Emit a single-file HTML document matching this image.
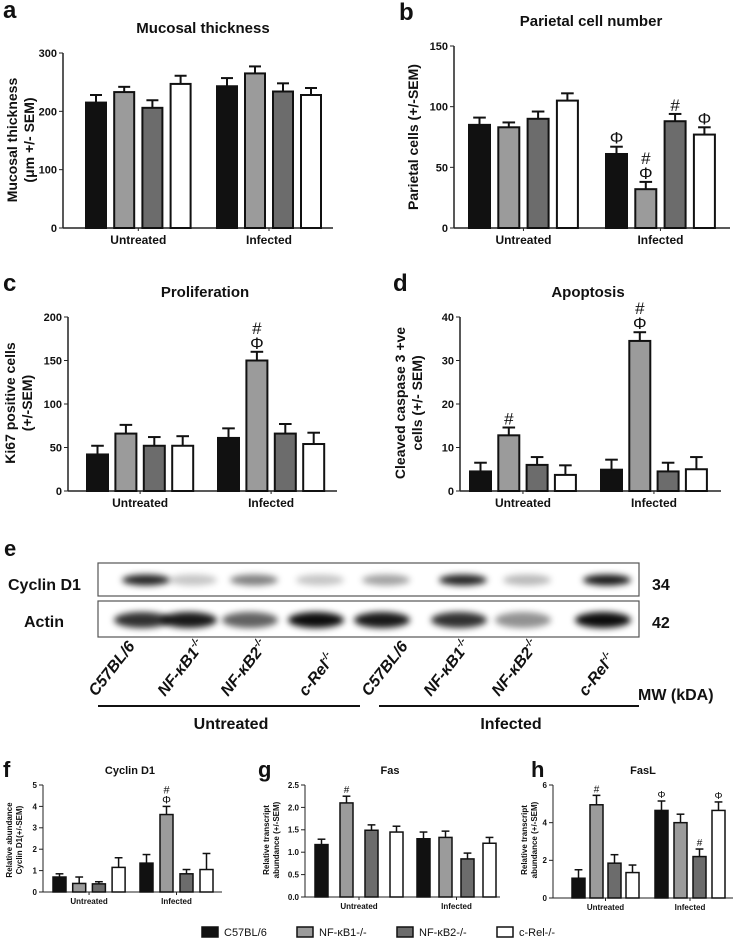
<!DOCTYPE html>
<html><head><meta charset="utf-8">
<style>
html,body{margin:0;padding:0;background:#fff;}
svg{display:block;}
text{font-family:"Liberation Sans",sans-serif;fill:#111;}
</style></head>
<body>
<svg id="fig" width="736" height="939" viewBox="0 0 736 939" xmlns="http://www.w3.org/2000/svg">
<defs>
<filter id="blur" x="-50%" y="-100%" width="200%" height="300%"><feGaussianBlur stdDeviation="3.2"/></filter>
</defs>
<g id="blot">
<text x="4" y="556" font-size="22" font-weight="bold">e</text>
<text x="8" y="590" font-size="16" font-weight="bold">Cyclin D1</text>
<text x="24" y="627" font-size="16" font-weight="bold">Actin</text>
<rect x="98" y="563" width="541" height="33" fill="#fff" stroke="#555" stroke-width="1.2"/>
<rect x="98" y="601" width="541" height="36" fill="#fff" stroke="#555" stroke-width="1.2"/>
<g id="bands"></g>
<text x="652" y="590" font-size="16" font-weight="bold">34</text>
<text x="652" y="628" font-size="16" font-weight="bold">42</text>
<text x="638" y="700" font-size="16" font-weight="bold">MW (kDA)</text>
<g id="lanelabels"></g>
<line x1="98" y1="706" x2="360" y2="706" stroke="#111" stroke-width="2"/>
<line x1="379" y1="706" x2="639" y2="706" stroke="#111" stroke-width="2"/>
<text x="231" y="729" font-size="16" font-weight="bold" text-anchor="middle">Untreated</text>
<text x="511" y="729" font-size="16" font-weight="bold" text-anchor="middle">Infected</text>
</g>
<g id="legend"></g>
</svg>
<script>
var NS="http://www.w3.org/2000/svg";
var svg=document.getElementById('fig');
var groups=["Untreated","Infected"];
var strains=["C57BL/6","NF-κB1-/-","NF-κB2-/-","c-Rel-/-"];
var fills=["#111111","#9b9b9b","#6c6c6c","#ffffff"];

// Panel a
var aUntreated=[215,233,206,247], aUntreatedErr=[13,9,13,14];
var aInfected=[243,265,234,228], aInfectedErr=[14,12,14,12];
var aTicks=[0,100,200,300];
// Panel b
var bUntreated=[85,83,90,105], bUntreatedErr=[6,4,6,6];
var bInfected=[61,32,88,77], bInfectedErr=[6,6,6,6];
var bTicks=[0,50,100,150];
// Panel c
var cUntreated=[42,66,52,52], cUntreatedErr=[10,10,10,11];
var cInfected=[61,150,66,54], cInfectedErr=[11,10,11,13];
var cTicks=[0,50,100,150,200];
// Panel d
var dUntreated=[4.5,12.8,6,3.7], dUntreatedErr=[2,1.8,1.8,2.2];
var dInfected=[4.9,34.5,4.5,5], dInfectedErr=[2.3,2,2,2.8];
var dTicks=[0,10,20,30,40];
// Panel f
var fUntreated=[0.7,0.4,0.38,1.15], fUntreatedErr=[0.15,0.3,0.1,0.45];
var fInfected=[1.35,3.62,0.85,1.05], fInfectedErr=[0.4,0.38,0.2,0.75];
var fTicks=[0,1,2,3,4,5];
// Panel g
var gUntreated=[1.17,2.1,1.49,1.45], gUntreatedErr=[0.12,0.15,0.12,0.13];
var gInfected=[1.3,1.33,0.85,1.2], gInfectedErr=[0.15,0.14,0.13,0.13];
var gTicks=["0.0","0.5","1.0","1.5","2.0","2.5"];
// Panel h
var hUntreated=[1.05,4.95,1.85,1.35], hUntreatedErr=[0.45,0.5,0.45,0.4];
var hInfected=[4.65,4.0,2.2,4.65], hInfectedErr=[0.5,0.45,0.4,0.45];
var hTicks=[0,2,4,6];

// Blot band intensities (0-1)
var cyclinBands=[0.95,0.25,0.55,0.25,0.4,0.95,0.3,1.0];
var actinBands=[0.85,0.95,0.65,1.0,0.95,0.85,0.45,1.0];

function el(tag,attrs,parent){var e=document.createElementNS(NS,tag);for(var k in attrs)e.setAttribute(k,attrs[k]);(parent||svg).appendChild(e);return e;}

function panel(P){
  var g=el('g',{});
  
  
  var ymax=parseFloat(P.ticks[P.ticks.length-1]);
  function Y(v){return P.y0-(v/ymax)*(P.y0-P.yTop);}
  var t=el('text',{x:P.letterX,y:P.letterY,'font-size':P.big?24:22,'font-weight':'bold'},g);t.textContent=P.id;
  
  
  var ti=el('text',{x:P.titleX,y:P.titleY,'font-size':P.big?15:11,'font-weight':'bold','text-anchor':'middle'},g);ti.textContent=P.title;
  
  
  var fs=P.big?11:8;
  el('line',{x1:P.x0,y1:P.yTop,x2:P.x0,y2:P.y0,stroke:'#222','stroke-width':P.big?1.5:1},g);
  var xa=el('line',{x1:P.x0,y1:P.y0,x2:P.xEnd,y2:P.y0,stroke:'#222','stroke-width':P.big?1.5:1},g);
  
  
  P.ticks.forEach(function(tv){
    var y=Y(parseFloat(tv));
    el('line',{x1:P.x0-4,y1:y,x2:P.x0,y2:y,stroke:'#222','stroke-width':1},g);
    var tl=el('text',{x:P.x0-6,y:y+fs*0.36,'font-size':fs,'font-weight':'bold','text-anchor':'end'},g);tl.textContent=tv;
    
    
  });
  var yl=el('text',{transform:'translate('+P.ylX+','+P.ylY+') rotate(-90)','font-size':P.big?14:8,'font-weight':'bold','text-anchor':'middle'},g);
  
  
  P.ylab.forEach(function(s,i){var ts=el('tspan',{x:0,dy:i==0?0:(P.big?17:10)},yl);ts.textContent=s;});
  var sets=[[P.u,P.ue],[P.i,P.ie]];
  sets.forEach(function(S,gi){
    var gx=P.gStart[gi];
    var mid=gx+1.5*P.pitch[gi]+P.w/2;
    el('line',{x1:mid,y1:P.y0,x2:mid,y2:P.y0+3,stroke:'#222','stroke-width':1},g);
    var gl=el('text',{x:mid,y:P.y0+(P.big?16:12),'font-size':P.big?12:8,'font-weight':'bold','text-anchor':'middle'},g);gl.textContent=groups[gi];
    
    
    S[0].forEach(function(v,k){
      var x=gx+k*P.pitch[gi], y=Y(v), ye=Y(v+S[1][k]);
      var cx=x+P.w/2;
      el('line',{x1:cx,y1:y,x2:cx,y2:ye,stroke:'#111','stroke-width':P.big?2:1.5},g);
      el('line',{x1:cx-P.w*0.3,y1:ye,x2:cx+P.w*0.3,y2:ye,stroke:'#111','stroke-width':P.big?2:1.5},g);
      var r=el('rect',{x:x,y:y,width:P.w,height:P.y0-y,fill:fills[k],stroke:'#111','stroke-width':P.big?2:1.5},g);
      
      
      var ann=(P.ann[gi]||{})[k];
      if(ann){
        var yy=ye-3;
        for(var m=ann.length-1;m>=0;m--){
          var a=el('text',{x:cx,y:yy,'font-size':P.big?17:(P.id=='f'?11:10),'text-anchor':'middle','font-family':'Liberation Serif',fill:ann[m]=='Φ'?'#666':'#222'},g);
          a.textContent=ann[m];
          
          
          yy-=P.big?15:10;
        }
      }
    });
  });
}

panel({id:'a',big:true,title:'Mucosal thickness',titleX:203,titleY:33,letterX:3,letterY:18,x0:63,xEnd:333,y0:228,yTop:53,ticks:aTicks,u:aUntreated,ue:aUntreatedErr,i:aInfected,ie:aInfectedErr,gStart:[86,217],pitch:[28.2,28],w:20,ylab:['Mucosal thickness','(μm +/- SEM)'],ylX:17,ylY:140,ann:[{},{}]});
panel({id:'b',big:true,title:'Parietal cell number',titleX:591,titleY:26,letterX:399,letterY:20,x0:454,xEnd:730,y0:228,yTop:46,ticks:bTicks,u:bUntreated,ue:bUntreatedErr,i:bInfected,ie:bInfectedErr,gStart:[469,606],pitch:[29.3,29.3],w:21,ylab:['Parietal cells (+/-SEM)'],ylX:418,ylY:137,ann:[{},{0:['Φ'],1:['#','Φ'],2:['#'],3:['Φ']}]});
panel({id:'c',big:true,title:'Proliferation',titleX:205,titleY:297,letterX:3,letterY:291,x0:68,xEnd:337,y0:491,yTop:317,ticks:cTicks,u:cUntreated,ue:cUntreatedErr,i:cInfected,ie:cInfectedErr,gStart:[87,218],pitch:[28.4,28.4],w:21,ylab:['Ki67 positive cells','(+/-SEM)'],ylX:15,ylY:403,ann:[{},{1:['#','Φ']}]});
panel({id:'d',big:true,title:'Apoptosis',titleX:588,titleY:297,letterX:393,letterY:291,x0:460,xEnd:721,y0:491,yTop:317,ticks:dTicks,u:dUntreated,ue:dUntreatedErr,i:dInfected,ie:dInfectedErr,gStart:[470,601],pitch:[28.3,28.3],w:21,ylab:['Cleaved caspase 3 +ve','cells (+/- SEM)'],ylX:405,ylY:403,ann:[{1:['#']},{1:['#','Φ']}]});
panel({id:'f',big:false,title:'Cyclin D1',titleX:130,titleY:774,letterX:3,letterY:777,x0:43,xEnd:222,y0:892,yTop:785,ticks:fTicks,u:fUntreated,ue:fUntreatedErr,i:fInfected,ie:fInfectedErr,gStart:[53,140],pitch:[19.7,20],w:13,ylab:['Relative abundance','Cyclin D1(+/-SEM)'],ylX:12,ylY:840,ann:[{},{1:['#','Φ']}]});
panel({id:'g',big:false,title:'Fas',titleX:390,titleY:774,letterX:258,letterY:777,x0:305,xEnd:500,y0:897,yTop:785,ticks:gTicks,u:gUntreated,ue:gUntreatedErr,i:gInfected,ie:gInfectedErr,gStart:[315,417],pitch:[25,22],w:13,ylab:['Relative transcript','abundance (+/-SEM)'],ylX:269,ylY:840,ann:[{1:['#']},{}]});
panel({id:'h',big:false,title:'FasL',titleX:643,titleY:774,letterX:531,letterY:777,x0:553,xEnd:733,y0:898,yTop:785,ticks:hTicks,u:hUntreated,ue:hUntreatedErr,i:hInfected,ie:hInfectedErr,gStart:[572,655],pitch:[18,19],w:13,ylab:['Relative transcript','abundance (+/-SEM)'],ylX:527,ylY:840,ann:[{1:['#']},{0:['Φ'],2:['#'],3:['Φ']}]});

// Blot bands
var bandG=document.getElementById('bands');
var lanesX=[146,193,254,320,386,463,527,607];
cyclinBands.forEach(function(v,k){
  var e=el('ellipse',{cx:lanesX[k],cy:580,rx:24,ry:5.5,fill:'#000','fill-opacity':v*0.9,filter:'url(#blur)'},bandG);
  
  
});
actinBands.forEach(function(v,k){
  var e=el('ellipse',{cx:lanesX[k]-4,cy:620,rx:28,ry:8,fill:'#000','fill-opacity':v*0.95,filter:'url(#blur)'},bandG);
  
  
});
// Lane labels
var laneBase=[["C57BL/6",""],["NF-κB1","-/-"],["NF-κB2","-/-"],["c-Rel","-/-"],["C57BL/6",""],["NF-κB1","-/-"],["NF-κB2","-/-"],["c-Rel","-/-"]];
var laneLX=[96,165,228,306,369,431,499,586];
var llg=document.getElementById('lanelabels');
laneBase.forEach(function(L,k){
  var t=el('text',{transform:'translate('+laneLX[k]+',697) rotate(-52)','font-size':16,'font-weight':'bold','font-style':'italic'},llg);
  
  
  var a=el('tspan',{},t);a.textContent=L[0];
  if(L[1]){var b=el('tspan',{'font-size':10,dy:-7},t);b.textContent=L[1];}
});
// Legend
var lg=document.getElementById('legend');
var legX=[202,297,397,497];
strains.forEach(function(s,k){
  var r=el('rect',{x:legX[k],y:927,width:16,height:10,fill:fills[k],stroke:'#111','stroke-width':1.5},lg);
  
  
  var t=el('text',{x:legX[k]+22,y:936,'font-size':11},lg);t.textContent=s;
  
  
});
</script>
</body></html>
